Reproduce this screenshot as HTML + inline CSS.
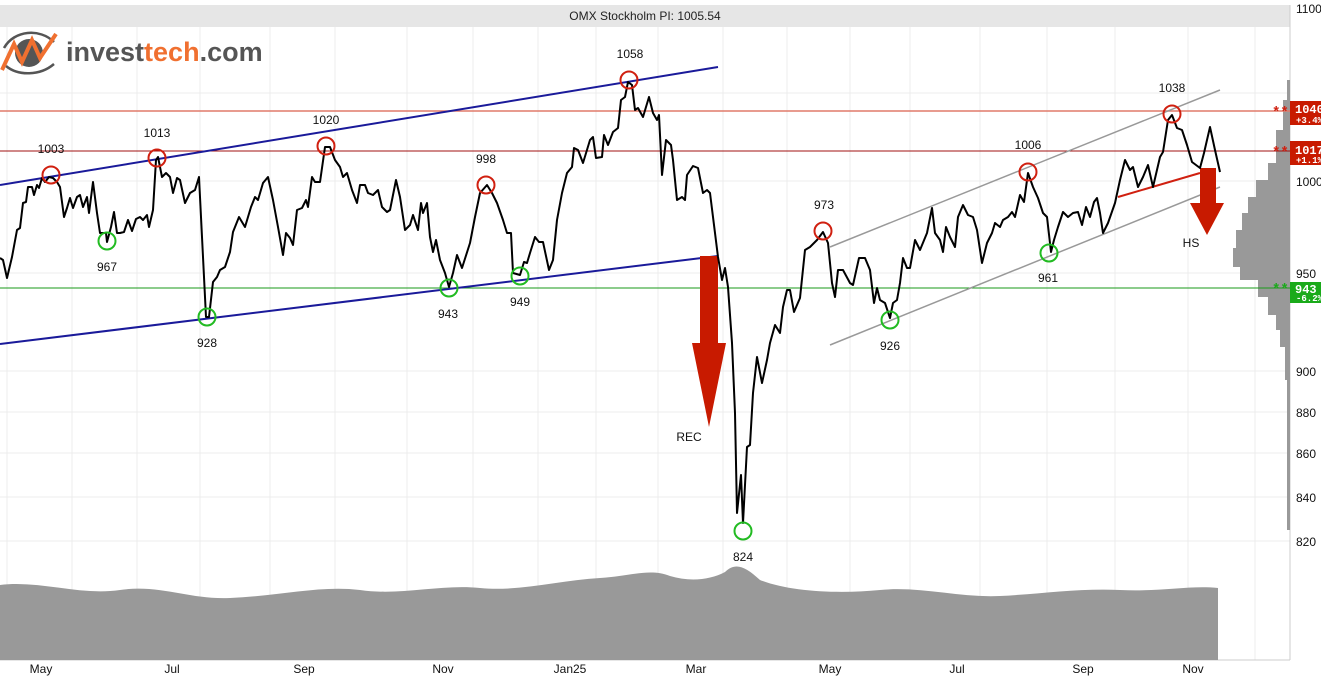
<!DOCTYPE html>
<html><head><meta charset="utf-8"><style>
html,body{margin:0;padding:0;background:#fff;}
svg{display:block;font-family:"Liberation Sans",Arial,sans-serif;}
</style></head><body>
<svg width="1321" height="680" viewBox="0 0 1321 680" xmlns="http://www.w3.org/2000/svg">
<rect x="0" y="0" width="1321" height="680" fill="#fff"/>
<rect x="0" y="5" width="1290" height="22" fill="#e6e6e6"/>
<text x="645" y="20" font-size="12" text-anchor="middle" fill="#222">OMX Stockholm PI: 1005.54</text>
<g stroke="#ececec" stroke-width="1">
<line x1="7" y1="27" x2="7" y2="660"/><line x1="72" y1="27" x2="72" y2="660"/><line x1="137" y1="27" x2="137" y2="660"/><line x1="200" y1="27" x2="200" y2="660"/><line x1="270" y1="27" x2="270" y2="660"/><line x1="335" y1="27" x2="335" y2="660"/><line x1="407" y1="27" x2="407" y2="660"/><line x1="473" y1="27" x2="473" y2="660"/><line x1="538" y1="27" x2="538" y2="660"/><line x1="596" y1="27" x2="596" y2="660"/><line x1="658" y1="27" x2="658" y2="660"/><line x1="723" y1="27" x2="723" y2="660"/><line x1="787" y1="27" x2="787" y2="660"/><line x1="850" y1="27" x2="850" y2="660"/><line x1="910" y1="27" x2="910" y2="660"/><line x1="980" y1="27" x2="980" y2="660"/><line x1="1047" y1="27" x2="1047" y2="660"/><line x1="1115" y1="27" x2="1115" y2="660"/><line x1="1188" y1="27" x2="1188" y2="660"/><line x1="1255" y1="27" x2="1255" y2="660"/>
<line x1="0" y1="93" x2="1290" y2="93"/><line x1="0" y1="181" x2="1290" y2="181"/><line x1="0" y1="273" x2="1290" y2="273"/><line x1="0" y1="371" x2="1290" y2="371"/><line x1="0" y1="412" x2="1290" y2="412"/><line x1="0" y1="453" x2="1290" y2="453"/><line x1="0" y1="497" x2="1290" y2="497"/><line x1="0" y1="541" x2="1290" y2="541"/>
</g>
<line x1="1290" y1="5" x2="1290" y2="660" stroke="#ccc"/>
<line x1="0" y1="660" x2="1290" y2="660" stroke="#ccc"/>
<!-- volume -->
<path d="M0,585 C40,580 80,596 120,590 C160,584 190,600 230,598 C280,596 320,585 360,590 C400,596 440,584 480,588 C520,592 560,580 600,578 C630,576 650,568 670,576 C690,582 710,580 725,572 C735,562 745,566 760,580 C790,592 840,594 880,590 C920,586 960,598 1000,596 C1040,594 1080,588 1120,590 C1160,592 1190,585 1218,588 L1218,660 L0,660 Z" fill="#999"/>
<!-- volume profile -->
<g fill="#999">
<rect x="1287" y="80" width="3" height="45"/><rect x="1283" y="100" width="7" height="30"/><rect x="1276" y="130" width="14" height="33"/><rect x="1268" y="163" width="22" height="17"/><rect x="1256" y="180" width="34" height="17"/><rect x="1248" y="197" width="42" height="16"/><rect x="1242" y="213" width="48" height="17"/><rect x="1236" y="230" width="54" height="18"/><rect x="1233" y="248" width="57" height="19"/><rect x="1240" y="267" width="50" height="13"/><rect x="1258" y="280" width="32" height="17"/><rect x="1268" y="297" width="22" height="18"/><rect x="1276" y="315" width="14" height="15"/><rect x="1280" y="330" width="10" height="17"/><rect x="1285" y="347" width="5" height="33"/><rect x="1287" y="380" width="3" height="150"/>
</g>
<!-- horizontal levels -->
<line x1="0" y1="111" x2="1290" y2="111" stroke="#e07a6a" stroke-width="1.5"/>
<line x1="0" y1="151" x2="1290" y2="151" stroke="#a01010" stroke-width="1"/>
<line x1="0" y1="288" x2="1290" y2="288" stroke="#1a9a1a" stroke-width="1"/>
<!-- channels -->
<line x1="0" y1="185" x2="718" y2="67" stroke="#1a1a9a" stroke-width="2"/>
<line x1="0" y1="344" x2="718" y2="256" stroke="#1a1a9a" stroke-width="2"/>
<line x1="830" y1="247" x2="1220" y2="90" stroke="#999" stroke-width="1.5"/>
<line x1="830" y1="345" x2="1220" y2="187" stroke="#999" stroke-width="1.5"/>
<line x1="1118" y1="197" x2="1200" y2="173" stroke="#d02010" stroke-width="2"/>
<!-- arrows -->
<path d="M700,256 L718,256 L718,343 L726,343 L709,427 L692,343 L700,343 Z" fill="#c81a00"/>
<path d="M1200,168 L1216,168 L1216,203 L1224,203 L1207,235 L1190,203 L1200,203 Z" fill="#c81a00"/>
<!-- price -->
<polyline fill="none" stroke="#000" stroke-width="2" stroke-linejoin="round" points="0,258 3,260 7,278 12,257 17,230 20,228 23,203 26,202 28,187 32,187 34,195 37,185 39,188 42,178 45,182 49,177 53,178 57,182 60,187 64,217 67,208 70,198 73,208 77,197 80,195 83,207 87,197 89,213 93,182 97,213 100,233 106,233 107,242 111,227 114,212 117,233 120,233 124,232 128,220 132,231 136,219 140,217 143,220 147,215 149,227 153,210 156,160 158,157 162,177 166,173 170,177 173,193 177,178 180,180 185,203 190,193 195,190 199,177 206,317 209,317 213,282 217,277 220,270 225,267 230,252 233,232 239,217 245,227 251,207 255,197 258,200 263,183 268,177 273,200 278,227 283,255 286,233 290,238 293,245 297,210 302,208 306,200 308,207 312,177 315,182 320,182 325,147 330,147 335,160 340,167 343,177 347,173 352,190 357,203 360,185 365,185 368,193 373,195 378,190 382,207 387,212 390,210 396,180 400,197 405,230 410,225 413,215 418,230 421,203 423,213 427,203 430,237 433,252 436,240 440,260 445,273 449,287 453,273 457,255 462,268 470,243 475,217 480,193 487,185 492,193 497,203 503,220 507,233 511,233 513,273 520,275 524,262 527,263 530,253 535,237 539,242 543,242 549,270 553,260 557,220 562,193 567,173 572,167 574,148 578,150 583,163 590,140 593,137 596,158 602,157 604,135 608,145 613,132 618,128 621,100 625,97 628,82 632,85 635,110 638,108 643,117 649,97 653,113 657,120 659,115 662,175 666,140 671,145 673,160 677,200 682,197 685,200 687,175 693,166 698,168 703,193 707,190 710,193 715,233 718,257 722,280 725,268 728,287 732,343 735,413 737,513 741,475 743,523 747,447 750,445 753,393 757,357 762,383 767,360 770,343 775,325 780,333 783,307 787,290 790,290 794,312 800,298 805,250 810,247 817,240 823,232 828,243 832,283 835,297 838,270 843,270 850,283 853,285 859,258 865,258 870,270 874,303 877,288 880,300 885,303 890,318 893,303 897,300 900,283 903,258 907,268 910,268 915,240 920,250 927,233 932,208 935,233 940,240 943,252 946,227 950,237 955,247 958,217 963,205 968,215 973,217 977,230 982,263 987,243 992,233 995,223 1000,227 1003,220 1008,217 1012,212 1015,217 1020,195 1024,202 1028,173 1033,187 1038,198 1043,213 1047,217 1051,252 1054,240 1058,227 1063,212 1068,217 1073,213 1078,212 1082,225 1086,207 1090,217 1094,202 1097,198 1100,213 1103,233 1108,223 1115,203 1120,180 1125,160 1130,170 1133,167 1138,187 1143,177 1148,165 1153,187 1160,157 1163,152 1168,120 1172,115 1177,128 1182,130 1187,145 1192,162 1196,165 1200,168 1204,153 1210,127 1215,150 1220,172"/>
<!-- circles -->
<g fill="none" stroke-width="2">
<g stroke="#d02010">
<circle cx="51" cy="175" r="8.5"/><circle cx="157" cy="158" r="8.5"/><circle cx="326" cy="146" r="8.5"/><circle cx="486" cy="185" r="8.5"/><circle cx="629" cy="80" r="8.5"/><circle cx="823" cy="231" r="8.5"/><circle cx="1028" cy="172" r="8.5"/><circle cx="1172" cy="114" r="8.5"/>
</g>
<g stroke="#22bb22">
<circle cx="107" cy="241" r="8.5"/><circle cx="207" cy="317" r="8.5"/><circle cx="449" cy="288" r="8.5"/><circle cx="520" cy="276" r="8.5"/><circle cx="743" cy="531" r="8.5"/><circle cx="890" cy="320" r="8.5"/><circle cx="1049" cy="253" r="8.5"/>
</g>
</g>
<g font-size="12" fill="#111" text-anchor="middle">
<text x="51" y="153">1003</text><text x="157" y="137">1013</text><text x="326" y="124">1020</text><text x="486" y="163">998</text><text x="630" y="58">1058</text><text x="824" y="209">973</text><text x="1028" y="149">1006</text><text x="1172" y="92">1038</text>
<text x="107" y="271">967</text><text x="207" y="347">928</text><text x="448" y="318">943</text><text x="520" y="306">949</text><text x="743" y="561">824</text><text x="890" y="350">926</text><text x="1048" y="282">961</text>
<text x="689" y="441">REC</text><text x="1191" y="247">HS</text>
</g>
<!-- logo -->
<g>
<path d="M4,48 C14,30 40,28 54,42" fill="none" stroke="#555" stroke-width="2.5"/>
<path d="M6,66 C18,76 40,76 54,64" fill="none" stroke="#555" stroke-width="2.5"/>
<circle cx="29" cy="53" r="14" fill="#555"/>
<polyline points="2,70 14,44 22,62 32,40 40,58 56,34" fill="none" stroke="#f07030" stroke-width="4"/>
<text x="66" y="61" font-size="27" font-weight="bold" fill="#555">invest<tspan fill="#f07030">tech</tspan>.com</text>
</g>
<!-- right axis -->
<g font-size="12" fill="#111">
<text x="1296" y="13">1100</text><text x="1296" y="186">1000</text><text x="1296" y="278">950</text><text x="1296" y="376">900</text><text x="1296" y="417">880</text><text x="1296" y="458">860</text><text x="1296" y="502">840</text><text x="1296" y="546">820</text>
</g>
<rect x="1290" y="101" width="31" height="24" fill="#c81a00"/>
<rect x="1290" y="141" width="31" height="24" fill="#c81a00"/>
<rect x="1290" y="282" width="31" height="21" fill="#1aaa1a"/>
<g font-weight="bold" fill="#fff" font-family="Liberation Mono,monospace">
<text x="1295" y="113" font-size="12">1040</text><text x="1296" y="123" font-size="9">+3.4%</text>
<text x="1295" y="154" font-size="12">1017</text><text x="1296" y="163" font-size="9">+1.1%</text>
<text x="1295" y="293" font-size="12">943</text><text x="1296" y="301" font-size="9">-6.2%</text>
</g>
<g font-size="14" font-weight="bold" font-family="Liberation Mono,monospace">
<text x="1272" y="116" fill="#d02010">**</text><text x="1272" y="156" fill="#d02010">**</text><text x="1272" y="293" fill="#1aaa1a">**</text>
</g>
<!-- month labels -->
<g font-size="12" fill="#111" text-anchor="middle">
<text x="41" y="673">May</text><text x="172" y="673">Jul</text><text x="304" y="673">Sep</text><text x="443" y="673">Nov</text><text x="570" y="673">Jan25</text><text x="696" y="673">Mar</text><text x="830" y="673">May</text><text x="957" y="673">Jul</text><text x="1083" y="673">Sep</text><text x="1193" y="673">Nov</text>
</g>
</svg>
</body></html>
